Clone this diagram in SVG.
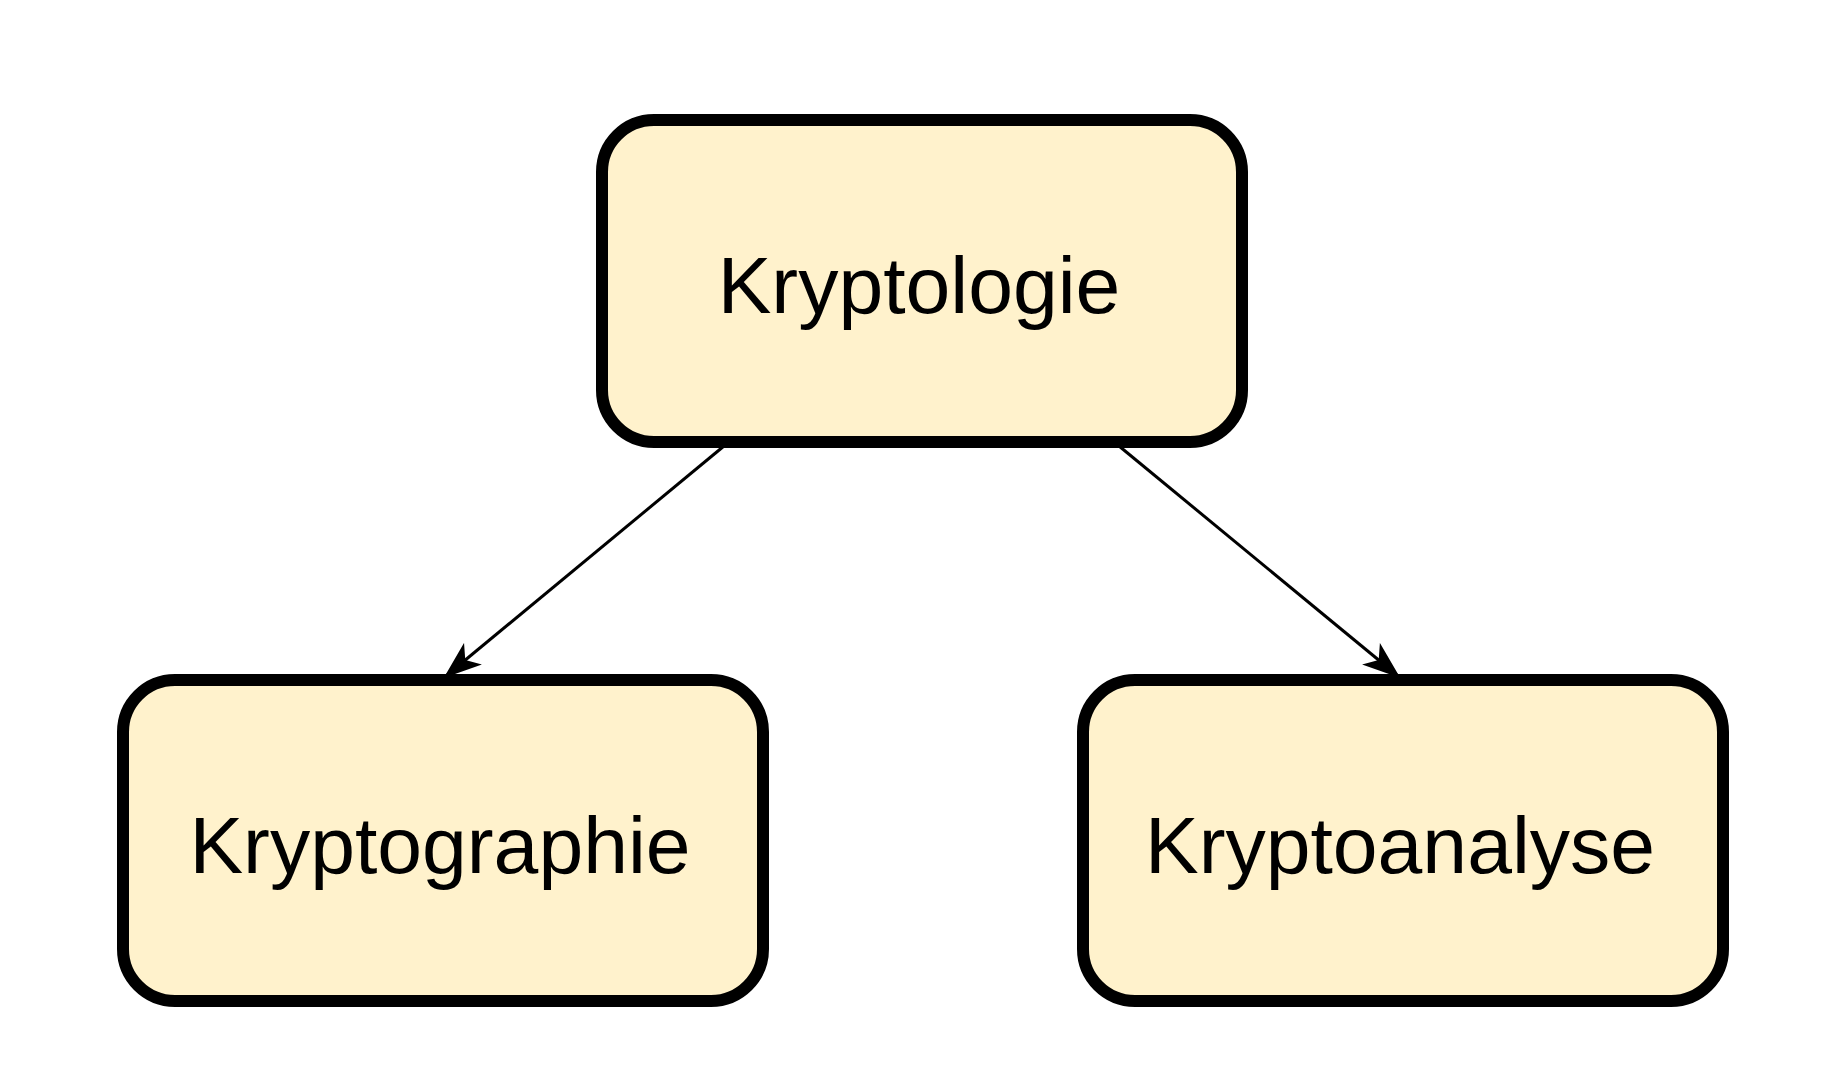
<svg xmlns="http://www.w3.org/2000/svg" width="1840" height="1080" viewBox="0 0 1840 1080">
  <style>
    .node rect { fill: #fff2cc; stroke: #000000; stroke-width: 12; }
    .node text { font-family: "Liberation Sans", Arial, sans-serif; font-size: 80.5px; fill: #000000; text-anchor: middle; }
    .edge { stroke: #000000; stroke-width: 3; fill: none; }
  </style>
  <defs>
    <marker id="arrow" markerUnits="userSpaceOnUse" viewBox="0 0 38 28" markerWidth="38" markerHeight="28" refX="35" refY="14" orient="auto">
      <path d="M0,0 L38,14 L0,28 L10,14 Z" fill="#000000"/>
    </marker>
  </defs>
  <rect width="1840" height="1080" fill="#ffffff"/>
  <g id="connectors">
    <line class="edge" x1="724" y1="446" x2="446" y2="676" marker-end="url(#arrow)"/>
    <line class="edge" x1="1119" y1="446" x2="1398" y2="676" marker-end="url(#arrow)"/>
  </g>
  <g id="node-kryptologie" class="node">
    <rect x="602" y="120" width="640" height="322" rx="52" ry="52"/>
    <text x="919" y="313">Kryptologie</text>
  </g>
  <g id="node-kryptographie" class="node">
    <rect x="123" y="680" width="640" height="321" rx="52" ry="52"/>
    <text x="440" y="873">Kryptographie</text>
  </g>
  <g id="node-kryptoanalyse" class="node">
    <rect x="1083" y="680" width="640" height="321" rx="52" ry="52"/>
    <text x="1400" y="873">Kryptoanalyse</text>
  </g>
</svg>
